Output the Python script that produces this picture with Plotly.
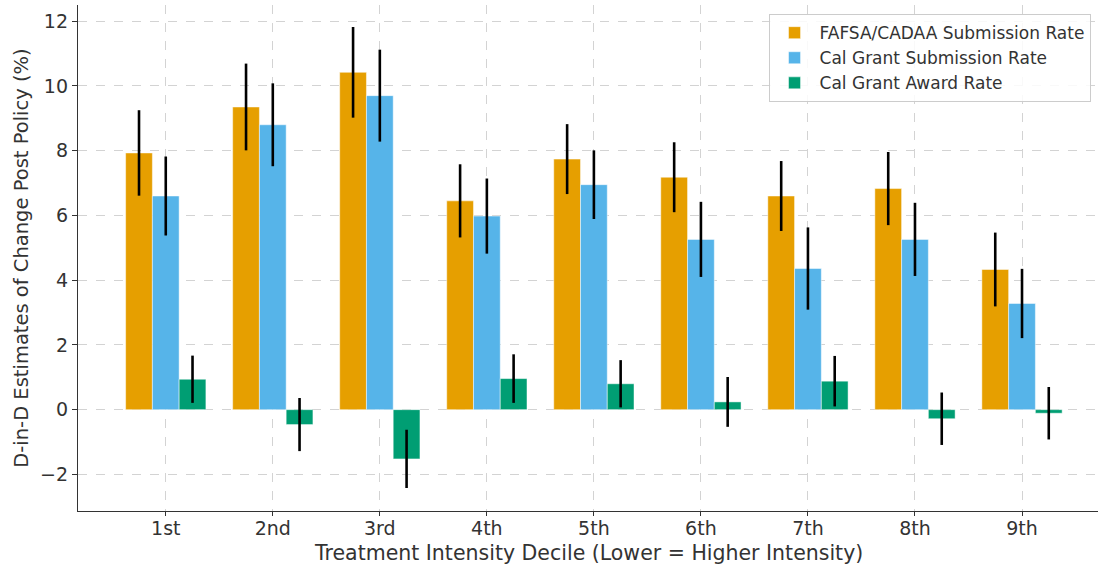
import plotly.graph_objects as go

categories = ["1st", "2nd", "3rd", "4th", "5th", "6th", "7th", "8th", "9th"]
series_names = ["FAFSA/CADAA Submission Rate", "Cal Grant Submission Rate", "Cal Grant Award Rate"]

fafsa = [7.93, 9.35, 10.42, 6.45, 7.74, 7.18, 6.60, 6.83, 4.33]
fafsa_err = [1.32, 1.34, 1.40, 1.13, 1.08, 1.08, 1.08, 1.13, 1.14]

calgrant_sub = [6.60, 8.80, 9.70, 5.98, 6.95, 5.26, 4.36, 5.26, 3.28]
calgrant_sub_err = [1.22, 1.28, 1.42, 1.16, 1.06, 1.16, 1.27, 1.13, 1.07]

calgrant_award = [0.94, -0.46, -1.52, 0.96, 0.80, 0.24, 0.88, -0.28, -0.11]
calgrant_award_err = [0.73, 0.82, 0.90, 0.75, 0.73, 0.77, 0.78, 0.81, 0.81]

x_title = "Treatment Intensity Decile (Lower = Higher Intensity)"
y_title = "D-in-D Estimates of Change Post Policy (%)"

colors = ["#E69F00", "#56B4E9", "#009E73"]

fig = go.Figure()
for name, vals, errs, col in zip(series_names,
                                 [fafsa, calgrant_sub, calgrant_award],
                                 [fafsa_err, calgrant_sub_err, calgrant_award_err],
                                 colors):
    fig.add_trace(go.Bar(
        x=categories, y=vals, name=name,
        marker=dict(color=col, line=dict(color="rgba(255,255,255,0.6)", width=0.8)),
        error_y=dict(type="data", array=errs, visible=True, color="black",
                     thickness=2.6, width=0),
    ))

fig.update_layout(
    width=1098, height=566,
    barmode="group", bargap=0.25, bargroupgap=0,
    plot_bgcolor="white", paper_bgcolor="white",
    margin=dict(l=78, r=0, t=5, b=55),
    font=dict(family="DejaVu Sans", size=16, color="#333333"),
    legend=dict(x=0.677, y=0.982, xanchor="left", yanchor="top",
                bgcolor="rgba(255,255,255,0.85)", bordercolor="#cccccc", borderwidth=1,
                font=dict(size=17, color="#333333"), itemwidth=40, tracegroupgap=0),
    showlegend=True,
    annotations=[dict(text=x_title, xref="paper", yref="paper", x=0.5, y=-0.083,
                      xanchor="center", yanchor="middle", showarrow=False,
                      font=dict(size=20.5, color="#333333"))],
)
fig.update_xaxes(
    range=[-0.82, 8.71], showgrid=True, gridcolor="#d3d3d3", griddash="dash", gridwidth=1,
    showline=True, linecolor="#333333", linewidth=1.3,
    ticks="outside", ticklen=4, tickcolor="#333333",
    tickfont=dict(size=19), ticklabelstandoff=-4,
)
fig.update_yaxes(
    range=[-3.13, 12.5], showgrid=True, gridcolor="#d3d3d3", griddash="dash", gridwidth=1,
    zeroline=False, tickvals=[-2, 0, 2, 4, 6, 8, 10, 12], ticktext=["\u22122", "0", "2", "4", "6", "8", "10", "12"],
    showline=True, linecolor="#333333", linewidth=1.3,
    ticks="outside", ticklen=5, tickcolor="#333333",
    title=dict(text=y_title, font=dict(size=19.5), standoff=6),
    tickfont=dict(size=19),
)

fig.write_html("out.html")
